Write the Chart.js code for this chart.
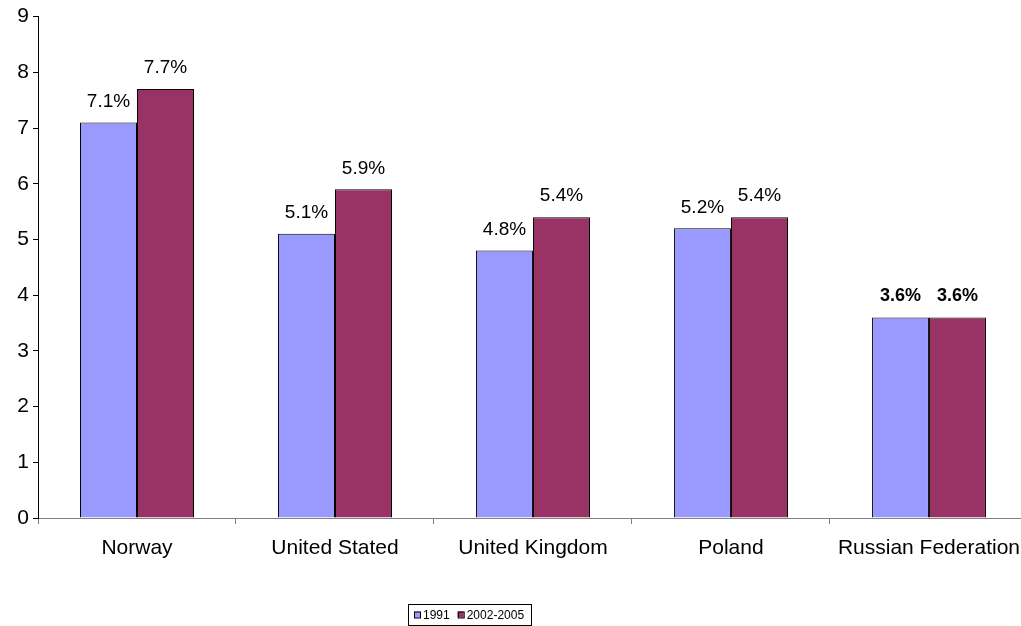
<!DOCTYPE html>
<html lang="en">
<head>
    <meta charset="UTF-8">
    <title>Public expenditure on education</title>
    <script src="https://cdn.jsdelivr.net/npm/chart.js@4/dist/chart.umd.min.js"></script>
    <style>
        html, body {
            margin: 0;
            padding: 0;
            background: #fff;
            overflow: hidden;
        }
        .wrap {
            width: 1032px;
            height: 626px;
        }
    </style>
</head>
<body>
<div class="wrap">
    <canvas id="eduChart" width="1032" height="626"></canvas>
</div>
<script>
    const countries = ['Norway', 'United Stated', 'United Kingdom', 'Poland', 'Russian Federation'];
    const values1991 = [7.1, 5.1, 4.8, 5.2, 3.6];
    const values2002 = [7.7, 5.9, 5.4, 5.4, 3.6];
    const seriesNames = ['1991', '2002-2005'];
    const yTicks = [0, 1, 2, 3, 4, 5, 6, 7, 8, 9];

    const FONT = '"Liberation Sans", Arial, sans-serif';

    // percentage labels above each bar (last category is bold)
    const barLabels = {
        id: 'barLabels',
        afterDatasetsDraw(chart) {
            const ctx = chart.ctx;
            ctx.save();
            ctx.fillStyle = '#000';
            ctx.textAlign = 'center';
            ctx.textBaseline = 'middle';
            chart.data.datasets.forEach((ds, di) => {
                chart.getDatasetMeta(di).data.forEach((bar, i) => {
                    const bold = i === countries.length - 1;
                    ctx.font = (bold ? 'bold 18px ' : '19px ') + FONT;
                    ctx.fillText(ds.data[i].toFixed(1) + '%', bar.x, bar.y - 21);
                });
            });
            ctx.restore();
        }
    };

    // small framed legend under the axis
    const boxLegend = {
        id: 'boxLegend',
        afterDraw(chart) {
            const ctx = chart.ctx;
            const x0 = 408, y0 = 604, w = 123, h = 21;
            ctx.save();
            ctx.strokeStyle = '#000';
            ctx.lineWidth = 1;
            ctx.strokeRect(x0 + 0.5, y0 + 0.5, w, h);
            ctx.font = '12px ' + FONT;
            ctx.textBaseline = 'middle';
            let x = x0 + 6;
            const cy = y0 + h / 2 + 1;
            chart.data.datasets.forEach(ds => {
                ctx.fillStyle = ds.backgroundColor;
                ctx.fillRect(x, cy - 4, 6, 6);
                ctx.strokeStyle = '#000';
                ctx.strokeRect(x + 0.5, cy - 3.5, 6, 6);
                x += 9;
                ctx.fillStyle = '#000';
                ctx.fillText(ds.label, x, cy);
                x += ctx.measureText(ds.label).width + 8;
            });
            ctx.restore();
        }
    };

    new Chart(document.getElementById('eduChart').getContext('2d'), {
        type: 'bar',
        data: {
            labels: countries,
            datasets: [{
                label: seriesNames[0],
                data: values1991,
                backgroundColor: '#9999FF',
                borderColor: '#000',
                borderWidth: 1,
                borderSkipped: 'bottom'
            }, {
                label: seriesNames[1],
                data: values2002,
                backgroundColor: '#993366',
                borderColor: '#000',
                borderWidth: 1,
                borderSkipped: 'bottom'
            }]
        },
        options: {
            responsive: false,
            animation: false,
            categoryPercentage: 0.576,
            barPercentage: 1,
            layout: {
                padding: { top: 16, right: 0, left: 0, bottom: 48 }
            },
            plugins: {
                tooltip: { enabled: false },
                legend: { display: false }
            },
            scales: {
                x: {
                    offset: true,
                    grid: {
                        offset: true,
                        drawOnChartArea: false,
                        color: '#808080',
                        tickLength: 6,
                        tickColor: '#808080'
                    },
                    border: { color: '#808080', width: 1 },
                    ticks: {
                        color: '#000',
                        font: { family: FONT, size: 21 },
                        padding: 12,
                        maxRotation: 0
                    },
                    afterFit(scale) { scale.height = 60; }
                },
                y: {
                    min: 0,
                    max: 9,
                    afterBuildTicks(scale) {
                        scale.ticks = yTicks.map(v => ({ value: v }));
                    },
                    grid: {
                        drawOnChartArea: false,
                        color: '#000',
                        tickLength: 5,
                        tickColor: '#000'
                    },
                    border: { color: '#000', width: 1 },
                    ticks: {
                        color: '#000',
                        font: { family: FONT, size: 21 },
                        padding: 4
                    },
                    afterFit(scale) { scale.width = 38; }
                }
            }
        },
        plugins: [barLabels, boxLegend]
    });
</script>
</body>
</html>
